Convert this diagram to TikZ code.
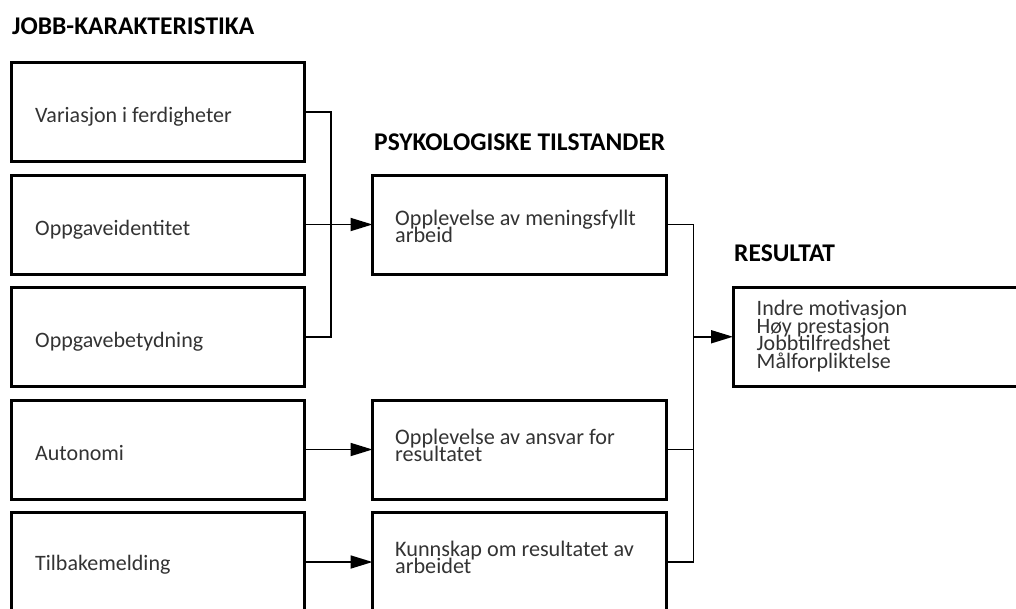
\documentclass[tikz,border=0pt]{standalone}
\usepackage{fontspec}
\setmainfont{Carlito}
\usetikzlibrary{arrows.meta}
\newcommand\tightlines{\lineskiplimit=-50pt\relax}
\begin{document}
\begin{tikzpicture}[x=1pt,y=-1pt,
  box/.style={draw, line width=3pt, inner sep=0pt, outer sep=0pt, anchor=north west},
  kbox/.style={box, minimum width=293pt, minimum height=99pt},
  pbox/.style={box, minimum width=294pt, minimum height=99pt},
  head/.style={anchor=base west, inner sep=0pt, font=\fontsize{25.5}{28}\selectfont\bfseries, text=black},
  ltext/.style={anchor=base west, inner sep=0pt, font=\fontsize{22}{24}\selectfont, text=black!80},
  mtext/.style={anchor=base west, inner sep=0pt, align=left, font=\fontsize{22.2}{17}\selectfont\tightlines, text=black!80},
  rtext/.style={anchor=base west, inner sep=0pt, align=left, font=\fontsize{22}{17.7}\selectfont\tightlines, text=black!80},
  conn/.style={draw, line width=1.3pt},
  arr/.style={draw, line width=1.8pt, -{Triangle[length=22pt,width=13pt]}}]
\useasboundingbox (0,0) rectangle (1016,608);
\clip (0,0) rectangle (1016,608);
% headings
\node[head] (h1) at (12,34) {JOBB-KARAKTERISTIKA};
\node[head] (h2) at (374,150.5) {PSYKOLOGISKE TILSTANDER};
\node[head] (h3) at (734,261.5) {RESULTAT};
% left boxes
\node[kbox] (k1) at (11.5,62.5) {};
\node[kbox] (k2) at (11.5,175) {};
\node[kbox] (k3) at (11.5,287.5) {};
\node[kbox] (k4) at (11.5,400) {};
\node[kbox] (k5) at (11.5,512.5) {};
\node[ltext] (t1) at (35,122.5) {Variasjon i ferdigheter};
\node[ltext] (t2) at (35,235) {Oppgaveidentitet};
\node[ltext] (t3) at (35,347.5) {Oppgavebetydning};
\node[ltext] (t4) at (35,460) {Autonomi};
\node[ltext] (t5) at (35,570.5) {Tilbakemelding};
% middle boxes
\node[pbox] (p1) at (372.5,175) {};
\node[pbox] (p2) at (372.5,400) {};
\node[pbox] (p3) at (372.5,512.5) {};
\node[mtext] (m1) at (395,242.5) {Opplevelse av meningsfyllt\\arbeid};
\node[mtext] (m2) at (395,461.5) {Opplevelse av ansvar for\\resultatet};
\node[mtext] (m3) at (395,573) {Kunnskap om resultatet av\\arbeidet};
% right box
\node[box, minimum width=300pt, minimum height=98.5pt] (r) at (733,287.5) {};
\node[rtext] (rt) at (756.5,368.5) {Indre motivasjon\\Høy prestasjon\\Jobbtilfredshet\\Målforpliktelse};
% connectors
\coordinate (b1) at (331,0);
\coordinate (b2) at (693.5,0);
\draw[conn] (k1.east) -| (b1 |- k3.east) -- (k3.east);
\draw[arr] (k2.east) -- (p1.west);
\draw[arr] (k4.east) -- (p2.west);
\draw[arr] (k5.east) -- (p3.west);
\draw[conn] (p1.east) -| (b2 |- p3.east) -- (p3.east);
\draw[conn] (p2.east) -- (p2.east -| b2);
\draw[arr] (b2 |- r.west) -- (r.west);
\end{tikzpicture}
\end{document}
